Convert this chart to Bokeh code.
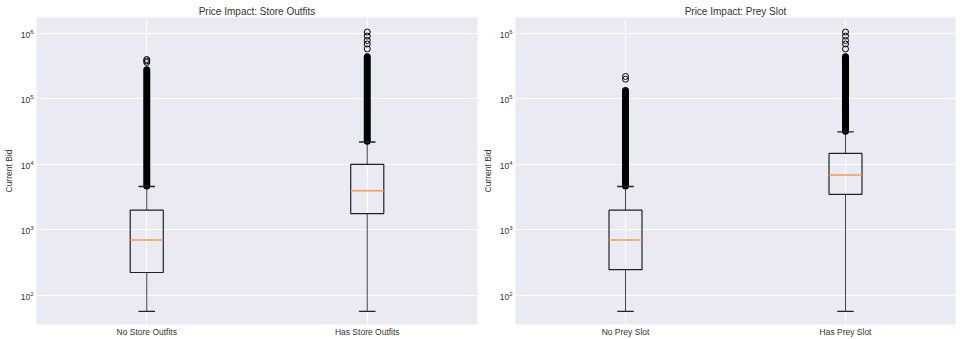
from bokeh.plotting import figure
from bokeh.layouts import row
from bokeh.models import Range1d, FixedTicker, ColumnDataSource, LogTicker
from bokeh.embed import file_html
from bokeh.resources import INLINE

# ---- data ----
titles = ["Price Impact: Store Outfits", "Price Impact: Prey Slot"]
categories = [["No Store Outfits", "Has Store Outfits"], ["No Prey Slot", "Has Prey Slot"]]
whisker_low = [[57, 57], [57, 57]]
q1 = [[224, 1780], [248, 3500]]
median = [[700, 3950], [700, 6900]]
q3 = [[2000, 10000], [2000, 14700]]
whisker_high = [[4600, 22000], [4600, 31500]]
# dense run of outliers (drawn as a solid column) : start / end
dense_low = [[4700, 22500], [4700, 32000]]
dense_high = [[2.8e5, 4.4e5], [1.35e5, 4.4e5]]
# isolated outliers
sparse_outliers = [
    [[3.6e5, 3.8e5, 4.0e5], [5.8e5, 6.9e5, 7.8e5, 9.1e5, 1.05e6]],
    [[2.0e5, 2.2e5], [5.8e5, 6.9e5, 7.8e5, 9.1e5, 1.05e6]],
]
y_label = "Current Bid"

BG = "#EAEAF2"
TXT = "#333333"
FONT = "Liberation Sans"


def make_panel(i, frame_w, border_left, border_right):
    p = figure(frame_width=frame_w, frame_height=307, y_axis_type="log",
               x_range=Range1d(0.5, 2.5), y_range=Range1d(36, 1.75e6),
               output_backend="svg", toolbar_location=None,
               min_border_left=border_left, min_border_right=border_right,
               min_border_top=17, min_border_bottom=14)
    p.background_fill_color = BG
    p.border_fill_color = "white"
    p.outline_line_color = None
    p.title.text = titles[i]
    p.title.align = "center"
    p.title.text_font = FONT
    p.title.text_font_size = "10px"
    p.title.text_font_style = "normal"
    p.title.text_color = TXT
    p.title.offset = 0
    p.title.standoff = 1

    xs = [1, 2]
    cats = categories[i]
    p.xaxis.ticker = FixedTicker(ticks=xs)
    p.xaxis.major_label_overrides = {1: cats[0], 2: cats[1]}
    p.yaxis.ticker = LogTicker(desired_num_ticks=6, num_minor_ticks=0)
    for ax in (p.xaxis, p.yaxis):
        ax.axis_line_color = None
        ax.major_tick_line_color = None
        ax.minor_tick_line_color = None
        ax.major_tick_in = 0
        ax.major_tick_out = 0
        ax.minor_tick_in = 0
        ax.minor_tick_out = 0
        ax.major_label_text_font = FONT
        ax.major_label_text_font_size = "8.5px"
        ax.major_label_text_color = TXT
        ax.major_label_standoff = 3
    p.xaxis.major_label_standoff = 2
    p.yaxis.axis_label = y_label
    p.yaxis.axis_label_text_font = FONT
    p.yaxis.axis_label_text_font_size = "8.5px"
    p.yaxis.axis_label_text_font_style = "normal"
    p.yaxis.axis_label_text_color = TXT
    p.yaxis.axis_label_standoff = 4

    p.xgrid.grid_line_color = "white"
    p.ygrid.grid_line_color = "white"
    p.xgrid.grid_line_width = 1
    p.ygrid.grid_line_width = 1

    src = ColumnDataSource(dict(
        x=xs, lo=whisker_low[i], q1=q1[i], med=median[i], q3=q3[i], hi=whisker_high[i],
        dlo=dense_low[i], dhi=dense_high[i]))
    bw = 0.15
    cw = 0.075
    # whiskers
    p.segment(x0="x", y0="lo", x1="x", y1="q1", source=src, line_color="#444444", line_width=1)
    p.segment(x0="x", y0="q3", x1="x", y1="hi", source=src, line_color="#444444", line_width=1)
    # dense outliers
    p.segment(x0="x", y0="dlo", x1="x", y1="dhi", source=src, line_color="black",
              line_width=7, line_cap="round")
    # caps
    left_c = [x - cw / 2 for x in xs]
    right_c = [x + cw / 2 for x in xs]
    p.segment(x0=left_c, y0=whisker_low[i], x1=right_c, y1=whisker_low[i], line_color="#222222", line_width=1.3)
    p.segment(x0=left_c, y0=whisker_high[i], x1=right_c, y1=whisker_high[i], line_color="#222222", line_width=1.3)
    # boxes
    p.quad(left=[x - bw / 2 for x in xs], right=[x + bw / 2 for x in xs],
           bottom=q1[i], top=q3[i], fill_color=None, line_color="#222222", line_width=1.2)
    # medians
    p.segment(x0=[x - bw / 2 for x in xs], y0=median[i], x1=[x + bw / 2 for x in xs], y1=median[i],
              line_color="#FA9A4B", line_width=1.5)
    # sparse outliers
    ox, oy = [], []
    for k, vals in enumerate(sparse_outliers[i]):
        for v in vals:
            ox.append(xs[k])
            oy.append(v)
    p.scatter(ox, oy, size=6, marker="circle", fill_color=None, line_color="black", line_width=1)
    return p


p1 = make_panel(0, 441, 36, 2)
p2 = make_panel(1, 440, 35, 9)
layout = row(p1, p2)

open("out.html", "w").write(file_html(layout, INLINE))
